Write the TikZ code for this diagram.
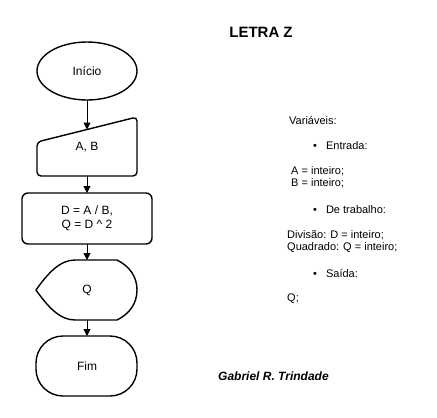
\documentclass[tikz,border=0pt]{standalone}
\usepackage{fontspec}
\setmainfont{Liberation Sans}
\usetikzlibrary{arrows.meta}
\begin{document}
\begin{tikzpicture}[x=1pt,y=-1pt,
  shp/.style={draw=black,line width=1.4pt,fill=white},
  flowtxt/.style={font=\fontsize{12}{14}\selectfont,align=center,inner sep=0pt},
  sidetxt/.style={font=\fontsize{11}{12.65}\selectfont,anchor=west,inner sep=0pt,align=left},
  conn/.style={draw=black,line width=1pt,-{Triangle[length=7pt,width=7pt]}}]
\useasboundingbox[fill=white] (0,0) rectangle (437,418);
% shapes
\draw[shp] (87,71) ellipse [x radius=50, y radius=29];
\node[flowtxt] (inicio) at (87,71) {Início};
\coordinate (inicioB) at (87,100);
\draw[shp,rounded corners=4pt] (37,142) -- (137,117) -- (137,176) -- (37,176) -- cycle;
\node[flowtxt] (ab) at (87,147) {A, B};
\coordinate (abT) at (87,129.5);
\coordinate (abB) at (87,176);
\draw[shp,rounded corners=6pt] (22,193) rectangle (152,244);
\node[flowtxt] (calc) at (87,218) {D = A / B,\\Q = D \^{} 2};
\coordinate (calcT) at (87,193);
\coordinate (calcB) at (87,244);
\draw[shp] (36,290) .. controls (48,273) and (60,260) .. (75,260) -- (117,260)
  .. controls (129,266) and (137,276) .. (137,290)
  .. controls (137,304) and (129,314) .. (117,320) -- (75,320)
  .. controls (60,320) and (48,307) .. cycle;
\node[flowtxt] (q) at (87,290) {Q};
\coordinate (qT) at (87,260);
\coordinate (qB) at (87,320);
\draw[shp,rounded corners=27pt] (36,336) rectangle (137,396);
\node[flowtxt] (fim) at (87,366) {Fim};
\coordinate (fimT) at (87,336);
% connectors
\draw[conn] (inicioB) -- (abT);
\draw[conn] (abB) -- (calcT);
\draw[conn] (calcB) -- (qT);
\draw[conn] (qB) -- (fimT);
% texts
\node[font=\fontsize{15}{17}\selectfont\bfseries,inner sep=0pt] (title) at (261,32) {LETRA Z};
\node[sidetxt] (vars) at (289,121) {Variáveis:};
\node[sidetxt] (b1) at (313,146) {•\hspace{9pt}Entrada:};
\node[sidetxt] (ab1) at (291,171) {A = inteiro;};
\node[sidetxt] (ab2) at (291,183.5) {B = inteiro;};
\node[sidetxt] (b2) at (313,210) {•\hspace{9pt}De trabalho:};
\node[sidetxt] (dv1) at (287,235) {Divisão: D = inteiro;};
\node[sidetxt] (dv2) at (287,247.5) {Quadrado: Q = inteiro;};
\node[sidetxt] (b3) at (313,273) {•\hspace{9pt}Saída:};
\node[sidetxt] (qq) at (287,299) {Q;};
\node[font=\fontsize{12}{14}\selectfont\bfseries\itshape,anchor=west,inner sep=0pt] (author) at (218,376) {Gabriel R. Trindade};
\end{tikzpicture}
\end{document}
